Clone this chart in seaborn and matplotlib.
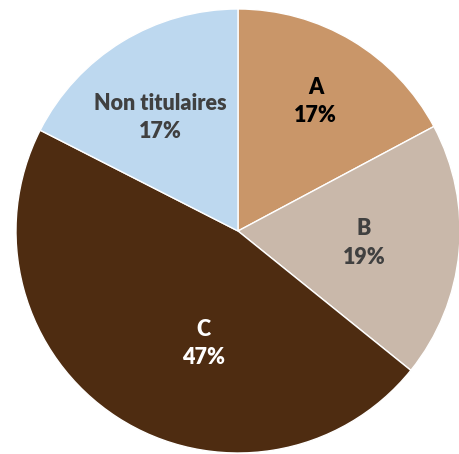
import numpy as np
import matplotlib
matplotlib.use("Agg")
import matplotlib.pyplot as plt
import seaborn as sns

sns.set_theme(style="white")
plt.rcParams['font.family'] = ['Lato', 'DejaVu Sans']

categories = ["A", "B", "C", "Non titulaires"]
values = [17.2, 18.6, 46.7, 17.5]
pct_labels = ["17%", "19%", "47%", "17%"]
colors = ["#C99669", "#C9B8AA", "#4E2C11", "#BDD8EF"]
text_colors = ["#000000", "#404040", "#FFFFFF", "#404040"]
label_dist = [0.68, 0.57, 0.53, 0.62]
label_offset_deg = [0, 0, 16, 3]

fig = plt.figure(figsize=(4.6, 4.54), dpi=100)
ax = fig.add_axes([0, 0, 1, 1])
wedges, _ = ax.pie(values, colors=colors, startangle=90, counterclock=False,
                   radius=1.0, wedgeprops=dict(edgecolor="white", linewidth=1.0))
ax.set_aspect('auto')
ax.set_xlim(-1.072, 1.0)
ax.set_ylim(-1.0045, 1.0405)
ax.axis('off')

for w, cat, pct, tc, d, off in zip(wedges, categories, pct_labels, text_colors,
                                   label_dist, label_offset_deg):
    ang = np.deg2rad((w.theta1 + w.theta2) / 2 + off)
    x, y = d * np.cos(ang), d * np.sin(ang)
    ax.text(x, y, f"{cat}\n{pct}", ha="center", va="center", color=tc,
            fontsize=15.5, fontweight="heavy", linespacing=1.45)

fig.savefig("out.png", dpi=100)
